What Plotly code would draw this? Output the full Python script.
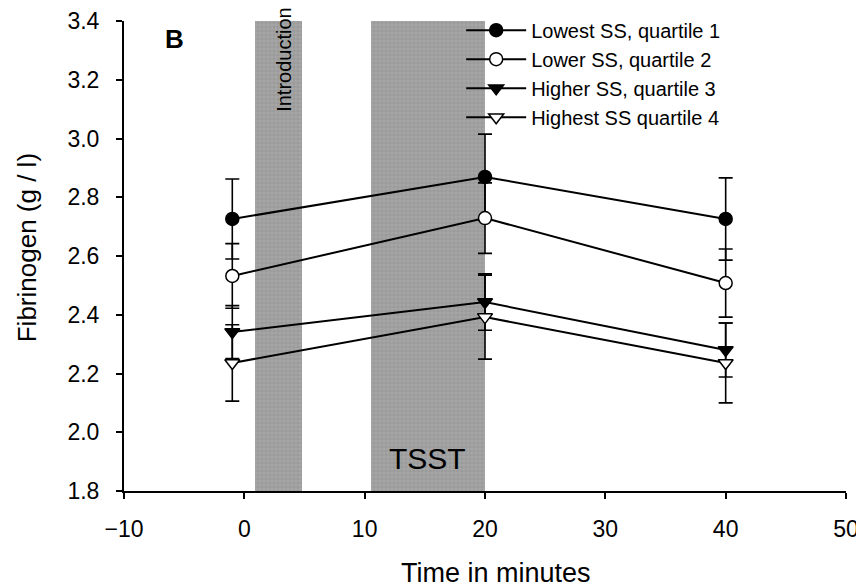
import plotly.graph_objects as go

# ---- data ----
time_min = [-1, 20, 40]
series_names = ["Lowest SS, quartile 1", "Lower SS, quartile 2",
                "Higher SS, quartile 3", "Highest SS quartile 4"]
q1 = [2.726, 2.869, 2.726]
q1_err = [0.136, 0.146, 0.140]
q2 = [2.532, 2.729, 2.508]
q2_err = [0.110, 0.120, 0.116]
q3 = [2.341, 2.443, 2.280]
q3_err = [0.090, 0.096, 0.092]
q4 = [2.236, 2.392, 2.236]
q4_err = [0.130, 0.143, 0.136]

band_labels = ["Introduction", "TSST"]
band_start = [0.9, 10.5]
band_end = [4.8, 20.0]

x_ticks = [-10, 0, 10, 20, 30, 40, 50]
y_ticks = [1.8, 2.0, 2.2, 2.4, 2.6, 2.8, 3.0, 3.2, 3.4]
y_min, y_max = 1.8, 3.4

FONT = "Liberation Sans, Arial, Helvetica, sans-serif"

fig = go.Figure()

# shaded phases
fig.add_trace(go.Bar(
    x=[(s + e) / 2 for s, e in zip(band_start, band_end)],
    y=[y_max - y_min] * len(band_start),
    base=y_min,
    width=[e - s for s, e in zip(band_start, band_end)],
    marker=dict(color="#a6a6a6", line=dict(width=0),
                pattern=dict(shape="+", fgcolor="#7c7c7c", size=4, solidity=0.3)),
    showlegend=False, hoverinfo="skip",
))

styles = [
    dict(symbol="circle", color="black"),
    dict(symbol="circle", color="white"),
    dict(symbol="triangle-down", color="black"),
    dict(symbol="triangle-down", color="white"),
]
values = [q1, q2, q3, q4]
errors = [q1_err, q2_err, q3_err, q4_err]

for name, vals, errs, st in zip(series_names, values, errors, styles):
    fig.add_trace(go.Scatter(
        x=time_min, y=vals, name=name, mode="lines+markers",
        line=dict(color="black", width=2),
        marker=dict(symbol=st["symbol"], color=st["color"], size=13,
                    line=dict(color="black", width=1.5)),
        error_y=dict(type="data", array=errs, visible=True,
                     color="black", thickness=1.6, width=7),
    ))

fig.add_annotation(x=(band_start[0] + band_end[0]) / 2 + 0.5, y=3.27,
                   text=band_labels[0], textangle=-90, showarrow=False,
                   font=dict(family=FONT, size=20, color="black"))
fig.add_annotation(x=(band_start[1] + band_end[1]) / 2, y=1.912,
                   text=band_labels[1], showarrow=False,
                   font=dict(family=FONT, size=30, color="black"))
fig.add_annotation(x=-5.8, y=3.34, text="<b>B</b>", showarrow=False,
                   font=dict(family=FONT, size=26, color="black"))

# axis titles
fig.add_annotation(xref="paper", yref="paper", x=0.515, y=-0.1745,
                   xanchor="center", yanchor="middle",
                   text="Time in minutes", showarrow=False,
                   font=dict(family=FONT, size=27, color="black"))
fig.add_annotation(xref="paper", yref="paper", x=-0.134, y=0.517,
                   xanchor="center", yanchor="middle",
                   text="Fibrinogen (g / l)", textangle=-90, showarrow=False,
                   font=dict(family=FONT, size=26, color="black"))

fig.update_layout(
    width=856, height=579,
    margin=dict(l=116, r=18, t=13, b=96, autoexpand=False),
    paper_bgcolor="white", plot_bgcolor="white",
    barmode="overlay", bargap=0,
    font=dict(family=FONT, size=22, color="black"),
    legend=dict(x=0.467, y=1.022, xanchor="left", yanchor="top",
                bgcolor="rgba(0,0,0,0)", font=dict(size=20),
                itemwidth=60, tracegroupgap=0),
    xaxis=dict(range=[-10, 50], tickvals=x_ticks, showgrid=False, zeroline=False,
               showline=True, linecolor="black", linewidth=2,
               ticks="outside", ticklen=6, tickwidth=1.5, tickcolor="black",
               tickfont=dict(size=23), ticklabelstandoff=10, automargin=False),
    yaxis=dict(range=[y_min, y_max], tickvals=y_ticks, tickformat=".1f",
               showgrid=False, zeroline=False,
               showline=True, linecolor="black", linewidth=2,
               ticks="outside", ticklen=6, tickwidth=1.5, tickcolor="black",
               tickfont=dict(size=23), ticklabelstandoff=12, automargin=False),
)

fig.write_html("out.html")
